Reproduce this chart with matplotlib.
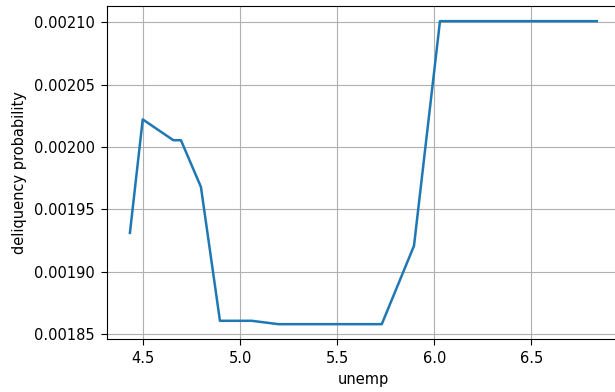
import numpy as np
import matplotlib
matplotlib.use('Agg')
import matplotlib.pyplot as plt

# unemployment rate vs predicted delinquency probability
unemp = [4.431, 4.497, 4.655, 4.694, 4.797, 4.895, 5.059, 5.196, 5.729, 5.895, 6.029, 6.837]
delinq_prob = [0.0019312, 0.0020222, 0.0020055, 0.0020055, 0.0019680, 0.0018607,
               0.0018607, 0.0018580, 0.0018580, 0.0019208, 0.0021010, 0.0021010]

plt.rcParams['font.size'] = 10.5
plt.rcParams['xtick.major.size'] = 4.3
plt.rcParams['ytick.major.size'] = 4.3
plt.rcParams['xtick.major.pad'] = 4.3
plt.rcParams['ytick.major.pad'] = 4.3

fig = plt.figure(figsize=(6.15, 3.92), dpi=100)
ax = fig.add_axes([0.1733, 0.1344, 0.835, 0.8503])

ax.plot(unemp, delinq_prob, linewidth=1.8)
ax.grid(True)
ax.set_xlabel('unemp', labelpad=4)
ax.set_ylabel('deliquency probability', labelpad=5)

plt.savefig('out.png', dpi=100)
